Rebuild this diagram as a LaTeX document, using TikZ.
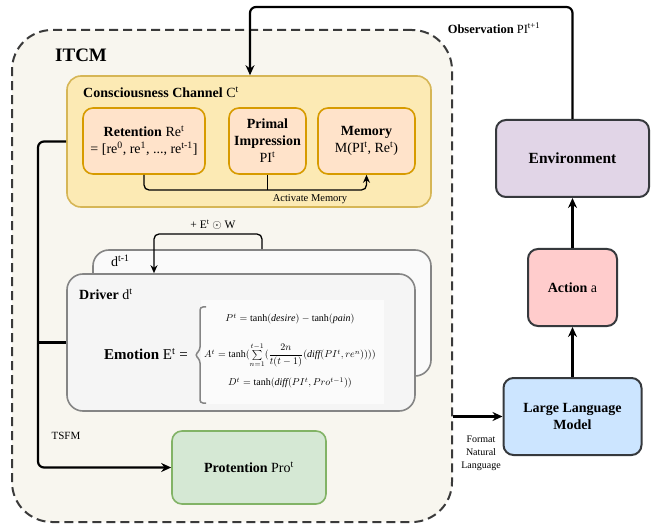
\documentclass[tikz,border=0pt]{standalone}
\usepackage{fontspec}
\setmainfont{Liberation Serif}
\usepackage{amsmath}
\usetikzlibrary{arrows.meta}

\definecolor{itcmbg}{HTML}{F8F6EF}
\definecolor{itcmline}{HTML}{3A3A3A}
\definecolor{chanbg}{HTML}{FCEAB4}
\definecolor{chanline}{HTML}{D6B656}
\definecolor{subbg}{HTML}{FFE3CA}
\definecolor{subline}{HTML}{D79B00}
\definecolor{drvbg}{HTML}{F5F5F5}
\definecolor{drvline}{HTML}{858585}
\definecolor{probg}{HTML}{D5E8D4}
\definecolor{proline}{HTML}{82B366}
\definecolor{llmbg}{HTML}{CCE5FF}
\definecolor{actbg}{HTML}{FFCCCC}
\definecolor{envbg}{HTML}{E1D5E7}
\definecolor{boxline}{HTML}{36393D}

\begin{document}
\begin{tikzpicture}[x=1pt,y=-1pt,
  box/.style={rounded corners=10pt,line width=1.6pt,inner sep=0pt,align=center,font=\fontsize{14}{17}\selectfont},
  sub/.style={box,draw=subline,fill=subbg},
  agent/.style={box,draw=boxline,fill=#1,line width=2pt},
  arr/.style={line width=2.2pt,-{Stealth[length=10pt,width=9pt]},rounded corners=6pt},
  thinarr/.style={line width=1.3pt,-{Stealth[length=8pt,width=7pt]},rounded corners=5pt},
  lbl/.style={inner sep=0pt,font=\fontsize{11}{13}\selectfont},
  eq/.style={inner sep=0pt,font=\fontsize{10}{12}\selectfont}]

  \fill[white] (0,0) rectangle (665,524);
  \useasboundingbox (0,0) rectangle (665,524);

  \node[draw=itcmline,fill=itcmbg,line width=2pt,dash pattern=on 9pt off 5pt,rounded corners=40pt,minimum width=440pt,minimum height=492pt] (itcm) at (232,276) {};
  \node[anchor=west,inner sep=0pt,font=\bfseries\fontsize{19}{22}\selectfont] (itcmlbl) at (55,55) {ITCM};

  % consciousness channel
  \node[box,draw=chanline,fill=chanbg,rounded corners=14pt,minimum width=364pt,minimum height=131pt] (chan) at (249,141.5) {};
  \node[anchor=west,inner sep=0pt,font=\fontsize{14}{17}\selectfont] (chanlbl) at (83,92) {\textbf{Consciousness Channel} C\textsuperscript{t}};
  \node[sub,minimum width=122pt,minimum height=66pt] (ret) at (144,141) {\textbf{Retention} Re\textsuperscript{t}\\= [re\textsuperscript{0}, re\textsuperscript{1}, ..., re\textsuperscript{t-1}]};
  \node[sub,minimum width=77pt,minimum height=66pt] (pi) at (267.5,141) {\textbf{Primal}\\\textbf{Impression}\\PI\textsuperscript{t}};
  \node[sub,minimum width=97pt,minimum height=66pt] (mem) at (366.5,141) {\textbf{Memory}\\M(PI\textsuperscript{t}, Re\textsuperscript{t})};

  \coordinate (actv) at (267.5,190);
  \draw[thinarr] (ret.south) |- (actv) -| (mem.south);
  \draw[line width=1.3pt] (pi.south) -- (actv);
  \node[lbl,font=\fontsize{10.5}{12}\selectfont] (actlbl) at (310,199) {Activate Memory};

  % driver
  \node[box,draw=drvline,fill=drvbg!50,rounded corners=16pt,minimum width=338pt,minimum height=126pt] (dprev) at (262,313) {};
  \node[anchor=west,inner sep=0pt,font=\fontsize{14}{17}\selectfont] (dprevlbl) at (111,261) {d\textsuperscript{t-1}};
  \node[box,draw=drvline,fill=drvbg,rounded corners=16pt,minimum width=348pt,minimum height=137pt] (driver) at (241,342.5) {};
  \node[anchor=west,inner sep=0pt,font=\fontsize{14}{17}\selectfont] (drvlbl) at (79,294) {\textbf{Driver} d\textsuperscript{t}};

  \coordinate (fb) at (154,234);
  \draw[thinarr] (dprev.north) |- (fb) -- (fb |- driver.north);
  \node[lbl,font=\fontsize{11.5}{13}\selectfont] (fblbl) at (213,225) {+ E\textsuperscript{t} $\odot$ W};

  \node[inner sep=0pt,font=\fontsize{15}{17}\selectfont] (emo) at (146,354) {\textbf{Emotion} E\textsuperscript{t} =};
  \fill[white!60!drvbg] (201,300) rectangle (384,404);
  \draw[drvline,line width=1.5pt,rounded corners=3pt] (206,307) -- (200,307) -- (200,350) -- (195,355) -- (200,360) -- (200,403) -- (206,403);
  \node[eq] (eqp) at (290,319) {$P^t = \tanh(\mathit{desire}) - \tanh(\mathit{pain})$};
  \node[eq] (eqa) at (290,355) {$A^t = \tanh(\sum\limits_{n=1}^{t-1}(\dfrac{2n}{t(t-1)}(\mathit{diff}(PI^t, re^n))))$};
  \node[eq] (eqd) at (290,383) {$D^t = \tanh(\mathit{diff}(PI^t, Pro^{t-1}))$};

  % protention
  \node[box,draw=proline,fill=probg,minimum width=154pt,minimum height=73pt] (prot) at (249,467.5) {\textbf{Protention} Pro\textsuperscript{t}};

  \coordinate (tsfm) at (38,142);
  \draw[arr] (chan.west) -| (tsfm |- prot.west) -- (prot.west);
  \draw[line width=2.2pt,rounded corners=6pt] (driver.west) -- (tsfm |- driver.west);
  \node[lbl] (tsfmlbl) at (66,436) {TSFM};

  % agent side
  \node[agent=envbg,minimum width=153pt,minimum height=77pt,font=\bfseries\fontsize{15.5}{18}\selectfont] (env) at (572.5,158.5) {Environment};
  \node[agent=actbg,minimum width=89pt,minimum height=77pt] (act) at (572.5,287.5) {\textbf{Action} a};
  \node[agent=llmbg,minimum width=138pt,minimum height=77pt] (llm) at (572.5,416.5) {\textbf{Large Language}\\\textbf{Model}};

  \coordinate (obs) at (250,7);
  \draw[arr] (env.north) |- (obs) -- (obs |- chan.north);
  \node[lbl,font=\fontsize{12.5}{14}\selectfont] (obslbl) at (494,28) {\textbf{Observation} PI\textsuperscript{t+1}};

  \draw[arr] (llm.north) -- (act.south);
  \draw[arr] (act.north) -- (env.south);
  \draw[arr] (itcm.east |- llm.west) -- (llm.west);
  \node[lbl,align=center,font=\fontsize{10}{13}\selectfont] (fmtlbl) at (481,453) {Format\\Natural\\Language};
\end{tikzpicture}
\end{document}
